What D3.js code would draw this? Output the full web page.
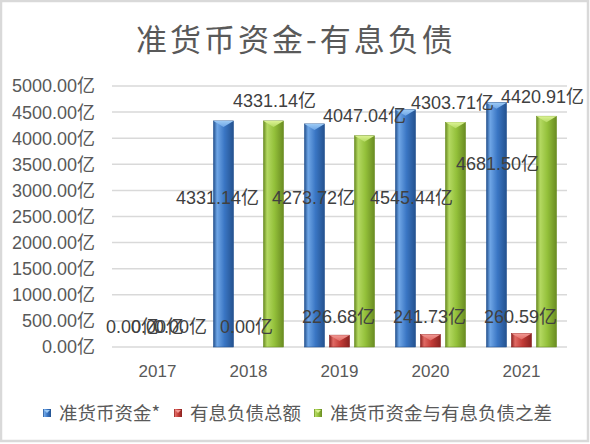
<!DOCTYPE html>
<html>
<head>
<meta charset="utf-8">
<script src="https://cdn.jsdelivr.net/npm/d3@7"></script>
<style>
  html, body { margin: 0; padding: 0; background: #fff; }
  svg text { font-family: "Liberation Sans", "Noto Sans CJK SC", sans-serif; }
</style>
</head>
<body>
<div id="chart"></div>
<script>
var years = ['2017', '2018', '2019', '2020', '2021'];
var seriesNames = ['准货币资金*', '有息负债总额', '准货币资金与有息负债之差'];
var cashValues = [0, 4331.14, 4273.72, 4545.44, 4681.50];
var debtValues = [0, 0, 226.68, 241.73, 260.59];
var diffValues = [0, 4331.14, 4047.04, 4303.71, 4420.91];
var yTicks = [0, 500, 1000, 1500, 2000, 2500, 3000, 3500, 4000, 4500, 5000];

// where excel left the labels (value units on the y axis, dx in px)
var cashLabelAt = [400, 2870, 2870, 2870, 3520];
var cashLabelDx = [0, -6, -1, 6, 1];
var debtLabelAt = [400, 400, 575, 575, 575];
var debtLabelDx = [0, -2, -1, -1, -1];
var diffLabelDx = [-2, 1, 0, -3, -4];

var dim = { width: 590, height: 444 };
var plot = { left: 112, right: 567, top: 86, bottom: 347 };

var colors = [
    { base: '#3a76c4', dark: '#24528f', light: '#6fa6e6', cap: '#9ccaf5' },
    { base: '#c23b36', dark: '#8a2220', light: '#e06a64', cap: '#f29a95' },
    { base: '#93c03a', dark: '#6a8c22', light: '#b4d962', cap: '#dcf394' }
];

var svg = d3.select('#chart').append('svg')
    .attr('width', dim.width)
    .attr('height', dim.height);

svg.append('rect')
    .attr('x', 1).attr('y', 1)
    .attr('width', 587).attr('height', 440)
    .attr('fill', '#fff')
    .attr('stroke', '#d9d9d9')
    .attr('stroke-width', 2.5);

var defs = svg.append('defs');
colors.forEach(function (c, i) {
    var g = defs.append('linearGradient').attr('id', 'bar' + i)
        .attr('x1', '0%').attr('x2', '100%').attr('y1', '0%').attr('y2', '0%');
    g.append('stop').attr('offset', '0%').attr('stop-color', c.dark);
    g.append('stop').attr('offset', '18%').attr('stop-color', c.light);
    g.append('stop').attr('offset', '55%').attr('stop-color', c.base);
    g.append('stop').attr('offset', '100%').attr('stop-color', c.dark);
    var t = defs.append('linearGradient').attr('id', 'cap' + i)
        .attr('x1', '0%').attr('x2', '0%').attr('y1', '0%').attr('y2', '100%');
    t.append('stop').attr('offset', '0%').attr('stop-color', c.cap);
    t.append('stop').attr('offset', '100%').attr('stop-color', c.light);
});

svg.append('text')
    .attr('x', 296).attr('y', 51)
    .attr('text-anchor', 'middle')
    .attr('fill', '#595959')
    .style('font-family', '"Noto Sans CJK SC", sans-serif')
    .style('font-size', '31px')
    .style('letter-spacing', '3px')
    .text('准货币资金-有息负债');

var x = d3.scaleBand().domain(years).range([plot.left, plot.right]).paddingInner(0).paddingOuter(0);
var y = d3.scaleLinear().domain([0, 5000]).range([plot.bottom, plot.top]);

// grid + y labels
svg.append('g').selectAll('line')
    .data(yTicks).enter().append('line')
    .attr('x1', plot.left).attr('x2', plot.right)
    .attr('y1', d => y(d)).attr('y2', d => y(d))
    .attr('stroke', '#d9d9d9')
    .attr('stroke-width', 1.5);

svg.append('g').selectAll('text')
    .data(yTicks).enter().append('text')
    .attr('x', 95)
    .attr('y', d => y(d))
    .attr('dy', '0.36em')
    .attr('text-anchor', 'end')
    .attr('fill', '#595959')
    .style('font-size', '18px')
    .text(d => d.toFixed(2) + '亿');

svg.append('g').selectAll('text')
    .data(years).enter().append('text')
    .attr('x', d => x(d) + x.bandwidth() / 2)
    .attr('y', 371)
    .attr('dy', '0.36em')
    .attr('text-anchor', 'middle')
    .attr('fill', '#595959')
    .style('font-size', '17px')
    .text(d => d);

var barW = 20, step = 25;
var series = [cashValues, debtValues, diffValues];

function barX(yr, s) {
    return x(yr) + x.bandwidth() / 2 + (s - 1) * step - barW / 2;
}

series.forEach(function (vals, s) {
    var g = svg.append('g').attr('class', 'series' + s);
    var rows = years.map((yr, i) => ({ yr: yr, v: vals[i] })).filter(d => d.v > 0);
    g.selectAll('rect').data(rows).enter().append('rect')
        .attr('x', d => barX(d.yr, s))
        .attr('y', d => y(d.v))
        .attr('width', barW)
        .attr('height', d => y(0) - y(d.v))
        .attr('fill', 'url(#bar' + s + ')')
        .attr('stroke', colors[s].dark)
        .attr('stroke-width', 0.6);
    g.selectAll('path').data(rows).enter().append('path')
        .attr('d', function (d) {
            var x0 = barX(d.yr, s), t = y(d.v);
            var h = Math.min(6, (y(0) - t) / 2);
            return 'M' + x0 + ',' + t + 'L' + (x0 + barW) + ',' + t +
                'L' + (x0 + barW / 2) + ',' + (t + h) + 'Z';
        })
        .attr('fill', 'url(#cap' + s + ')');
});

// data labels
var labels = [];
years.forEach(function (yr, i) {
    var c = x(yr) + x.bandwidth() / 2;
    labels.push({ x: c - step + cashLabelDx[i], y: y(cashLabelAt[i]), v: cashValues[i] });
    labels.push({ x: c + debtLabelDx[i], y: y(debtLabelAt[i]), v: debtValues[i] });
    labels.push({ x: c + step + diffLabelDx[i], y: (diffValues[i] > 0 ? y(diffValues[i]) - 20 : y(400)), v: diffValues[i] });
});

svg.append('g').selectAll('text')
    .data(labels).enter().append('text')
    .attr('x', d => d.x)
    .attr('y', d => d.y)
    .attr('dy', '0.36em')
    .attr('text-anchor', 'middle')
    .attr('fill', '#404040')
    .style('font-size', '18px')
    .text(d => d.v.toFixed(2) + '亿');

// legend
var legendX = [43, 174, 314];
var leg = svg.append('g').selectAll('g')
    .data(seriesNames).enter().append('g')
    .attr('transform', (d, i) => 'translate(' + legendX[i] + ',413)');
leg.append('rect')
    .attr('x', 0).attr('y', -4)
    .attr('width', 8).attr('height', 8)
    .attr('fill', (d, i) => 'url(#bar' + i + ')');
leg.append('path')
    .attr('d', 'M1,-3L7,-3L4,0Z')
    .attr('fill', (d, i) => colors[i].cap);
leg.append('text')
    .attr('x', 16)
    .attr('dy', '0.36em')
    .attr('fill', '#595959')
    .style('font-family', '"Noto Sans CJK SC", sans-serif')
    .style('font-size', '18.5px')
    .text(d => d);
</script>
</body>
</html>
